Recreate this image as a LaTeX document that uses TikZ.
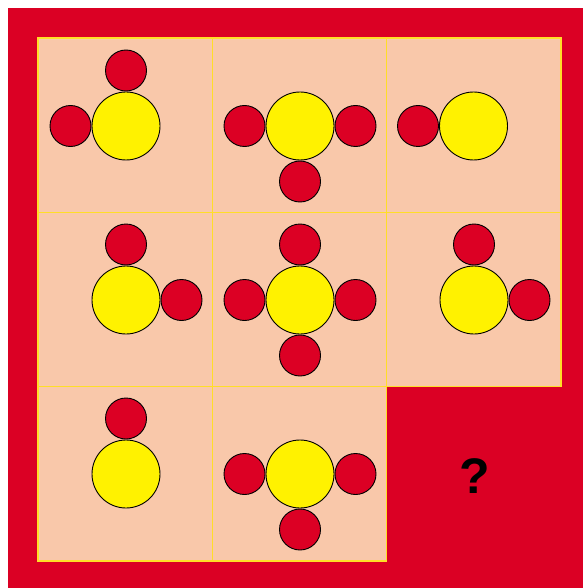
\documentclass[tikz,border=0pt]{standalone}
\usepackage{fontspec}
\newfontfamily\qfont{Liberation Sans}
\definecolor{bgred}{RGB}{219,0,36}
\definecolor{peach}{RGB}{249,200,170}
\definecolor{gridyel}{RGB}{255,222,40}
\definecolor{ballyel}{RGB}{255,242,0}
\definecolor{ballred}{RGB}{220,0,36}
\tikzset{
  big/.style={circle,draw=black,line width=0.9pt,fill=ballyel,minimum size=68pt,inner sep=0pt},
  small/.style={circle,draw=black,line width=0.9pt,fill=ballred,minimum size=41pt,inner sep=0pt},
  cellbox/.style={fill=peach,draw=gridyel,line width=1.3pt},
}
\begin{document}
\begin{tikzpicture}[x=1pt,y=-1pt]
\useasboundingbox (0,0) rectangle (583,588);
\fill[white] (0,0) rectangle (583,588);
\fill[bgred] (8,8) rectangle (583,588);
% cells
\foreach \c/\r in {0/0,1/0,2/0,0/1,1/1,2/1,0/2,1/2}{
  \path[cellbox] ({38+174.33*\c},{38+174.33*\r}) rectangle ++(174.33,174.33);
}
% row 1
\node[big] (b11) at (126,126) {};
\node[small] (b11t) at (126,70.5) {};
\node[small] (b11l) at (70.5,126) {};
\node[big] (b21) at (300,126) {};
\node[small] (b21l) at (244.5,126) {};
\node[small] (b21r) at (355.5,126) {};
\node[small] (b21b) at (300,181.5) {};
\node[big] (b31) at (473.5,126) {};
\node[small] (b31l) at (418,126) {};
% row 2
\node[big] (b12) at (126,300) {};
\node[small] (b12t) at (126,244.5) {};
\node[small] (b12r) at (181.5,300) {};
\node[big] (b22) at (300,300) {};
\node[small] (b22t) at (300,244.5) {};
\node[small] (b22l) at (244.5,300) {};
\node[small] (b22r) at (355.5,300) {};
\node[small] (b22b) at (300,355.5) {};
\node[big] (b32) at (474,300) {};
\node[small] (b32t) at (474,244.5) {};
\node[small] (b32r) at (529.5,300) {};
% row 3
\node[big] (b13) at (126,474) {};
\node[small] (b13t) at (126,418.5) {};
\node[big] (b23) at (300,474) {};
\node[small] (b23l) at (244.5,474) {};
\node[small] (b23r) at (355.5,474) {};
\node[small] (b23b) at (300,529.5) {};
% question mark
\node[font=\qfont\bfseries\fontsize{50}{50}\selectfont,text=black,inner sep=0pt] (q) at (475,476) {?};
\end{tikzpicture}
\end{document}
